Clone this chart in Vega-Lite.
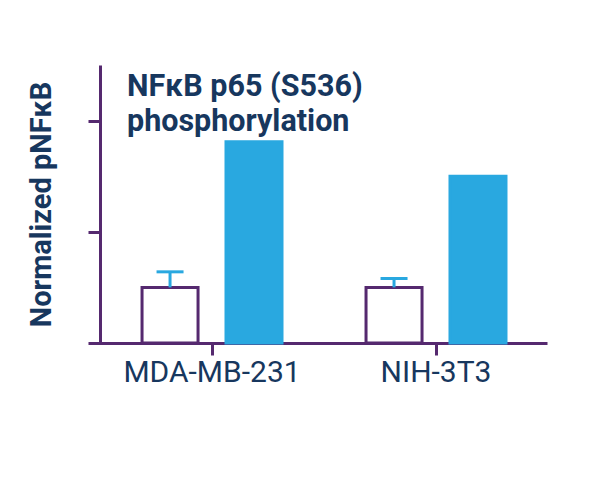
{
  "$schema": "https://vega.github.io/schema/vega-lite/v6.json",
  "description": "Normalized pNFkB (p65 S536 phosphorylation) in two cell lines, control vs treated.",
  "autosize": {"type": "none"},
  "padding": {"left": 88, "top": 65, "right": 53, "bottom": 137},
  "width": 459,
  "height": 278,
  "background": "white",
  "config": {
    "font": "Roboto",
    "view": {"stroke": null}
  },
  "title": {
    "text": ["NFκB p65 (S536)", "phosphorylation"],
    "frame": "group",
    "anchor": "start",
    "orient": "top",
    "baseline": "top",
    "dx": 39,
    "offset": -72,
    "fontSize": 30.5,
    "fontWeight": "bold",
    "lineHeight": 35,
    "color": "#17375e",
    "font": "Roboto"
  },
  "data": {
    "values": [
      {"cell": "MDA-MB-231", "cond": "ctrl", "value": 0.5, "upper": 0.64},
      {"cell": "MDA-MB-231", "cond": "treated", "value": 1.81},
      {"cell": "NIH-3T3", "cond": "ctrl", "value": 0.5, "upper": 0.58},
      {"cell": "NIH-3T3", "cond": "treated", "value": 1.5}
    ]
  },
  "encoding": {
    "x": {
      "field": "cell",
      "type": "nominal",
      "sort": ["MDA-MB-231", "NIH-3T3"],
      "scale": {"paddingInner": 0.1, "paddingOuter": 0.0746, "align": 0.695},
      "axis": {
        "title": null,
        "labelAngle": 0,
        "labelFontSize": 30,
        "labelFont": "Roboto",
        "labelColor": "#17375e",
        "labelPadding": 2,
        "domainColor": "#55296f",
        "domainWidth": 3,
        "tickColor": "#55296f",
        "tickWidth": 3,
        "tickSize": 12,
        "bandPosition": 0.5,
        "grid": false
      }
    },
    "xOffset": {
      "field": "cond",
      "type": "nominal",
      "scale": {"domain": ["ctrl", "treated"], "paddingInner": 0.333, "paddingOuter": 0.367}
    },
    "y": {
      "field": "value",
      "type": "quantitative",
      "scale": {"domain": [0, 2.5], "nice": false},
      "axis": {
        "title": "Normalized pNFκB",
        "titleFontSize": 29,
        "titleFont": "Roboto",
        "titleFontWeight": "bold",
        "titleColor": "#17375e",
        "titlePadding": 30,
        "values": [1, 2],
        "labels": false,
        "grid": false,
        "offset": -12,
        "domainColor": "#55296f",
        "domainWidth": 3,
        "tickColor": "#55296f",
        "tickWidth": 3,
        "tickSize": 12
      }
    }
  },
  "layer": [
    {
      "mark": {"type": "bar", "strokeWidth": 3},
      "encoding": {
        "fill": {
          "field": "cond",
          "type": "nominal",
          "scale": {"domain": ["ctrl", "treated"], "range": ["#ffffff", "#29a8e0"]},
          "legend": null
        },
        "stroke": {
          "field": "cond",
          "type": "nominal",
          "scale": {"domain": ["ctrl", "treated"], "range": ["#55296f", "#29a8e0"]},
          "legend": null
        }
      }
    },
    {
      "transform": [{"filter": "isValid(datum.upper)"}],
      "mark": {"type": "rule", "color": "#29a8e0", "strokeWidth": 3},
      "encoding": {
        "y": {"field": "value", "type": "quantitative"},
        "y2": {"field": "upper"}
      }
    },
    {
      "transform": [{"filter": "isValid(datum.upper)"}],
      "mark": {"type": "tick", "color": "#29a8e0", "thickness": 3, "size": 27, "opacity": 1},
      "encoding": {
        "y": {"field": "upper", "type": "quantitative"}
      }
    }
  ]
}
